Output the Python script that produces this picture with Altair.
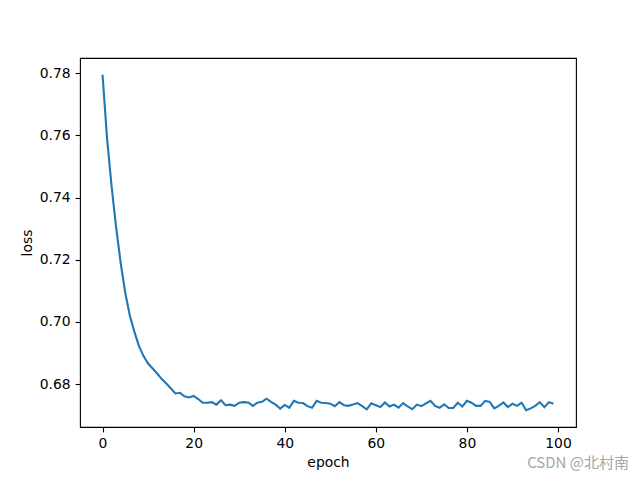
import altair as alt
import pandas as pd

loss = [
    0.7795, 0.7589, 0.7434, 0.7302, 0.7188, 0.7092, 0.7020, 0.6968, 0.6922, 0.6890,
    0.6866, 0.6850, 0.6834, 0.6816, 0.6802, 0.6786, 0.6770, 0.6772, 0.6761, 0.6757,
    0.6762, 0.6752, 0.6740, 0.6740, 0.6742, 0.6734, 0.6748, 0.6732, 0.6734, 0.6730,
    0.6740, 0.6742, 0.6741, 0.6730, 0.6740, 0.6743, 0.6753, 0.6743, 0.6734, 0.6721,
    0.6733, 0.6724, 0.6746, 0.6740, 0.6739, 0.6729, 0.6724, 0.6746, 0.6740, 0.6739,
    0.6737, 0.6729, 0.6742, 0.6732, 0.6730, 0.6734, 0.6739, 0.6729, 0.6719, 0.6738,
    0.6732, 0.6726, 0.6741, 0.6728, 0.6734, 0.6724, 0.6739, 0.6728, 0.6719, 0.6734,
    0.6729, 0.6738, 0.6746, 0.6730, 0.6724, 0.6735, 0.6723, 0.6723, 0.6740, 0.6728,
    0.6746, 0.6740, 0.6730, 0.6730, 0.6746, 0.6743, 0.6722, 0.6730, 0.6741, 0.6726,
    0.6737, 0.6730, 0.6740, 0.6716, 0.6722, 0.6730, 0.6742, 0.6726, 0.6742, 0.6737,
]
epochs = list(range(len(loss)))
x_ticks = [0, 20, 40, 60, 80, 100]
y_ticks = [0.68, 0.70, 0.72, 0.74, 0.76, 0.78]

df = pd.DataFrame({"epoch": epochs, "loss": loss})

axis_common = dict(
    grid=False, domain=False, tickColor="black", tickSize=4.9, tickWidth=1.1,
    labelColor="black", labelFontSize=13.9, labelFont="DejaVu Sans",
    titleFont="DejaVu Sans", titleFontSize=13.9, titleFontWeight="normal",
    titleColor="black", labelPadding=4.9,
)

line = alt.Chart(df).mark_line(color="#1f77b4", strokeWidth=2.1).encode(
    x=alt.X("epoch:Q", scale=alt.Scale(domain=[-4.95, 103.95], nice=False, zero=False),
            axis=alt.Axis(values=x_ticks, format="d", title="epoch", titlePadding=5, **axis_common)),
    y=alt.Y("loss:Q", scale=alt.Scale(domain=[0.6662, 0.7849], nice=False, zero=False),
            axis=alt.Axis(values=y_ticks, format=".2f", title="loss", titlePadding=5, **axis_common)),
)

wm = alt.Chart(pd.DataFrame({"t": ["CSDN @北村南"]})).mark_text(
    align="right", baseline="middle", fontSize=15, color="#a6a6a6", font="Noto Sans CJK SC"
).encode(text="t:N", x=alt.value(549), y=alt.value(405))

chart = alt.layer(line, wm).properties(
    width=496, height=369,
    padding={"left": 72, "top": 50, "right": 56, "bottom": 45},
    autosize=alt.AutoSizeParams(type="none"),
    background="white",
).configure_view(stroke="black", strokeWidth=1.1)

chart.save("out.html", embed_options={"renderer": "svg", "actions": False})
